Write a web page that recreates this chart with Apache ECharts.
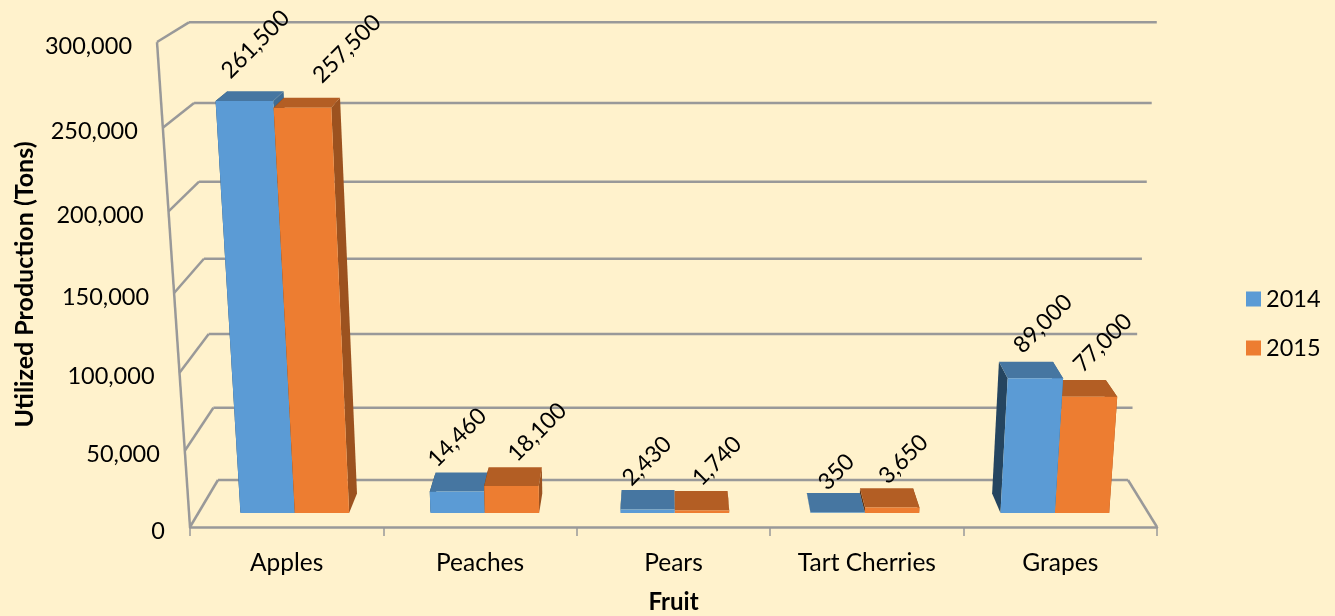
<!DOCTYPE html>
<html>
<head>
<meta charset="utf-8">
<title>Utilized Production</title>
<script src="https://cdn.jsdelivr.net/npm/echarts@6/dist/echarts.min.js"></script>
<style>
  html, body { margin: 0; padding: 0; background: #fff2cc; }
  #chart { width: 1335px; height: 616px; }
</style>
</head>
<body>
<div id="chart"></div>
<script>
const categories = ['Apples', 'Peaches', 'Pears', 'Tart Cherries', 'Grapes']
const values2014 = [261500, 14460, 2430, 350, 89000]
const values2015 = [257500, 18100, 1740, 3650, 77000]
const yTicks = [0, 50000, 100000, 150000, 200000, 250000, 300000]
const yMax = 300000

// Pixel nudges of the data labels from the back top edge of each bar
const labelShift2014 = [[0, -47], [-5, -35], [-1, -29], [3, -21], [17, -38]]
const labelShift2015 = [[35, -49], [22, -35], [16, -30], [17, -29], [24, -37]]

const FONT = 'Lato, "Open Sans", sans-serif'
const AXIS_GRAY = '#999999'
const BAR_WIDTH = 0.286        // share of one category
const BAR_SHIFT = 1.5          // the pair sits slightly right of the category centre
const DEPTH_FRONT = 0.285      // bars stand between these floor depths
const DEPTH_BACK = 0.7

// Perspective of the old 3D chart: maps a point of the flat grid plus a depth
// (0 = front edge of the floor, 1 = back wall) to the screen
function project(sys, px, py, d) {
  const bottom = sys.y + sys.height
  const t = (bottom - py) / sys.height
  const w = 1 - 0.0676 * t + 0.0626 * d
  return [
    (px - 43.6 * t + 41.6 * d) / w,
    (bottom - 487.8 * t - 16.95 * d) / w
  ]
}

function poly(points, fill, z2) {
  return { type: 'polygon', shape: { points }, style: { fill }, z2 }
}

function line(a, b) {
  return { type: 'line', shape: { x1: a[0], y1: a[1], x2: b[0], y2: b[1] }, style: { stroke: AXIS_GRAY, lineWidth: 2.5 } }
}

// Walls, floor and value labels, one item per tick
function renderFrame(params, api) {
  const sys = params.coordSys
  const left = sys.x
  const right = sys.x + sys.width
  const py = api.coord([0, api.value(1)])[1]
  const front = project(sys, left, py, 0)
  const back = project(sys, left, py, 1)
  // back wall runs a little short of the pure projection at the top right
  const backRight = project(sys, right - 4 * api.value(1) / yMax, py, 1)
  const children = [
    line(front, back),
    line(back, backRight),
    {
      type: 'text',
      style: {
        text: api.value(1).toLocaleString('en-US'),
        x: front[0] - 25,
        y: front[1] + 4,
        fill: '#000',
        font: '23.5px ' + FONT,
        align: 'right',
        verticalAlign: 'middle'
      }
    }
  ]
  if (params.dataIndex === 0) {
    const bottom = sys.y + sys.height
    const top = sys.y
    children.push(line(project(sys, left, bottom, 0), project(sys, left, top, 0)))
    children.push(line(project(sys, right, bottom, 0), project(sys, right, bottom, 1)))
  }
  return { type: 'group', children }
}

function barRenderer(offset, colors, shifts) {
  return function (params, api) {
    const sys = params.coordSys
    const idx = api.value(0)
    const base = api.coord([idx, 0])
    const top = api.coord([idx, api.value(1)])
    const bw = api.size([1, 0])[0] * BAR_WIDTH
    const x0 = base[0] + BAR_SHIFT + (offset - 1) * bw
    const x1 = x0 + bw
    const y0 = base[1]
    const y1 = top[1]
    const p = (x, y, d) => project(sys, x, y, d)

    // On the right half of the chart the left bar is the closer one
    const z = (idx >= 3 ? 1 - offset : offset) * 10 + 1
    const anchor = p((x0 + x1) / 2, y1, DEPTH_BACK)
    const shift = shifts[params.dataIndex]
    return {
      type: 'group',
      children: [
        poly([p(x0, y0, DEPTH_FRONT), p(x0, y0, DEPTH_BACK), p(x0, y1, DEPTH_BACK), p(x0, y1, DEPTH_FRONT)], colors.sideLeft, z),
        poly([p(x1, y0, DEPTH_FRONT), p(x1, y0, DEPTH_BACK), p(x1, y1, DEPTH_BACK), p(x1, y1, DEPTH_FRONT)], colors.sideRight, z + 1),
        poly([p(x0, y1, DEPTH_FRONT), p(x1, y1, DEPTH_FRONT), p(x1, y1, DEPTH_BACK), p(x0, y1, DEPTH_BACK)], colors.top, z + 2),
        poly([p(x0, y0, DEPTH_FRONT), p(x1, y0, DEPTH_FRONT), p(x1, y1, DEPTH_FRONT), p(x0, y1, DEPTH_FRONT)], colors.front, z + 3),
        {
          type: 'text',
          x: anchor[0] + shift[0],
          y: anchor[1] + shift[1],
          rotation: Math.PI / 4,
          z2: 50,
          style: {
            text: api.value(1).toLocaleString('en-US'),
            fill: '#000',
            font: '23px ' + FONT,
            align: 'center',
            verticalAlign: 'middle'
          }
        }
      ]
    }
  }
}

const blue = { front: '#5b9bd5', top: '#4676a1', sideLeft: '#254560', sideRight: '#3f6c94' }
const orange = { front: '#ed7d31', top: '#b35e24', sideLeft: '#5e3315', sideRight: '#9c521f' }

const chart = echarts.init(document.getElementById('chart'))
chart.setOption({
  backgroundColor: '#fff2cc',
  animation: false,
  textStyle: { fontFamily: FONT },
  grid: { left: 190, right: 178, top: 42, bottom: 89, outerBoundsMode: 'none' },
  legend: {
    orient: 'vertical',
    left: 1241,
    top: 282,
    itemWidth: 15,
    itemHeight: 15,
    itemGap: 25,
    icon: 'rect',
    data: ['2014', '2015'],
    textStyle: { color: '#000', fontSize: 23.5, fontFamily: FONT }
  },
  xAxis: {
    type: 'category',
    data: categories,
    name: 'Fruit',
    nameLocation: 'middle',
    nameGap: 63,
    nameTextStyle: { color: '#000', fontSize: 24, fontWeight: 'bold', fontFamily: FONT },
    axisLine: { lineStyle: { color: AXIS_GRAY, width: 2.5 } },
    axisTick: { show: true, length: 9, alignWithLabel: false, lineStyle: { color: AXIS_GRAY, width: 1.5 } },
    axisLabel: { color: '#000', fontSize: 24.5, margin: 24, fontFamily: FONT },
    splitLine: { show: false }
  },
  yAxis: {
    type: 'value',
    min: 0,
    max: yMax,
    interval: 50000,
    name: 'Utilized Production (Tons)',
    nameLocation: 'middle',
    nameGap: 153,
    nameRotate: 90,
    nameTextStyle: { color: '#000', fontSize: 25, fontWeight: 'bold', fontFamily: FONT },
    axisLine: { show: false },
    axisTick: { show: false },
    axisLabel: { show: false },
    splitLine: { show: false }
  },
  series: [
    {
      name: 'frame',
      type: 'custom',
      z: 1,
      silent: true,
      clip: false,
      data: yTicks.map(v => [0, v]),
      renderItem: renderFrame
    },
    {
      name: '2014',
      type: 'custom',
      z: 3,
      clip: false,
      itemStyle: { color: blue.front },
      data: values2014.map((v, i) => [i, v]),
      renderItem: barRenderer(0, blue, labelShift2014)
    },
    {
      name: '2015',
      type: 'custom',
      z: 3,
      clip: false,
      itemStyle: { color: orange.front },
      data: values2015.map((v, i) => [i, v]),
      renderItem: barRenderer(1, orange, labelShift2015)
    }
  ]
})
</script>
</body>
</html>
